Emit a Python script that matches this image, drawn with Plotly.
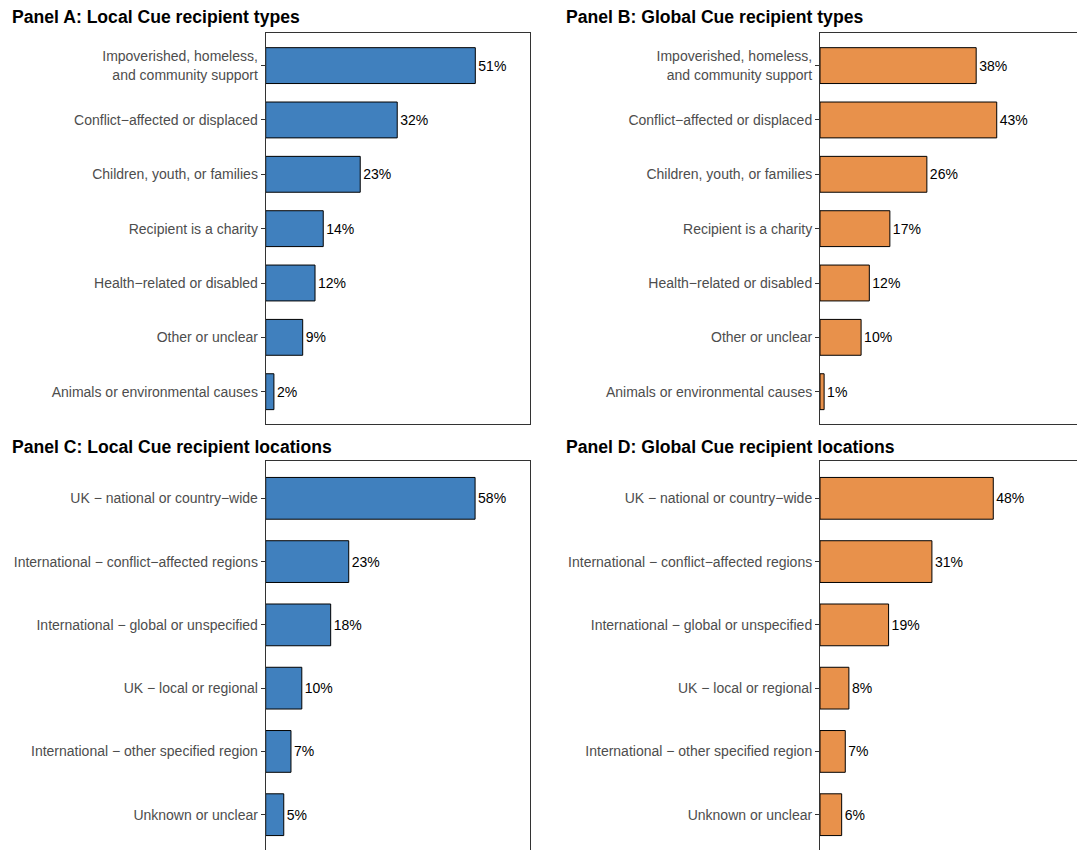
import plotly.graph_objects as go

# Recipient types (panels A and B), listed top to bottom
type_labels = [
    "Impoverished, homeless,<br>and community support",
    "Conflict−affected or displaced",
    "Children, youth, or families",
    "Recipient is a charity",
    "Health−related or disabled",
    "Other or unclear",
    "Animals or environmental causes",
]
local_types = [51, 32, 23, 14, 12, 9, 2]
global_types = [38, 43, 26, 17, 12, 10, 1]

# Recipient locations (panels C and D), listed top to bottom
location_labels = [
    "UK − national or country−wide",
    "International − conflict−affected regions",
    "International − global or unspecified",
    "UK − local or regional",
    "International − other specified region",
    "Unknown or unclear",
]
local_locations = [58, 23, 18, 10, 7, 5]
global_locations = [48, 31, 19, 8, 7, 6]

titles = [
    "Panel A: Local Cue recipient types",
    "Panel B: Global Cue recipient types",
    "Panel C: Local Cue recipient locations",
    "Panel D: Global Cue recipient locations",
]

BLUE = "#4080BE"
ORANGE = "#E8914B"
FONT = "Liberation Sans, Arial, sans-serif"
W, H = 1077, 850

fig = go.Figure()


def add_panel(idx, labels, values, color):
    n = len(labels)
    pos = list(range(n, 0, -1))  # first category on top
    axis = "" if idx == 1 else str(idx)
    fig.add_trace(go.Bar(
        x=values,
        y=pos,
        orientation="h",
        width=0.66,
        marker=dict(color=color, line=dict(color="black", width=1)),
        text=[f"{v}%" for v in values],
        textposition="outside",
        textfont=dict(family=FONT, size=14, color="black"),
        constraintext="none",
        cliponaxis=False,
        hoverinfo="skip",
        xaxis="x" + axis,
        yaxis="y" + axis,
    ))
    return pos


pos_a = add_panel(1, type_labels, local_types, BLUE)
pos_b = add_panel(2, type_labels, global_types, ORANGE)
pos_c = add_panel(3, location_labels, local_locations, BLUE)
pos_d = add_panel(4, location_labels, global_locations, ORANGE)

# panel geometry in pixels
left_x = (265.7, 530.0)
right_x = (820.0, 1077.0)
row1_y = (33.0, 424.3)
row2_y = (461.0, 850.0)


def xdom(px):
    return [px[0] / W, px[1] / W]


def ydom(px):
    return [1 - px[1] / H, 1 - px[0] / H]


row1_scale = 4.11  # px per percentage point
row2_scale = 3.61

axis_line = dict(showline=True, linecolor="#333333", linewidth=1)


def xaxis_cfg(dom, scale, anchor, mirror, side="bottom"):
    return dict(
        domain=xdom(dom), anchor=anchor,
        range=[0, (dom[1] - dom[0]) / scale],
        showgrid=False, zeroline=False, showticklabels=False, ticks="",
        mirror=mirror, side=side, fixedrange=True, **axis_line,
    )


def yaxis_cfg(dom, pos, labels, rng, anchor, mirror):
    return dict(
        domain=ydom(dom), anchor=anchor,
        range=rng,
        tickmode="array", tickvals=pos, ticktext=labels,
        ticks="outside", ticklen=4, tickcolor="#333333", tickwidth=1,
        tickfont=dict(family=FONT, size=14, color="#4D4D4D"),
        showgrid=False, zeroline=False, mirror=mirror, fixedrange=True,
        **axis_line,
    )


r1 = [0.4, 7.6]
r2 = [0.442, 6.59]

fig.update_layout(
    width=W, height=H,
    margin=dict(l=0, r=0, t=0, b=0),
    paper_bgcolor="white", plot_bgcolor="white",
    showlegend=False,
    font=dict(family=FONT),
    xaxis=xaxis_cfg(left_x, row1_scale, "y", True),
    yaxis=yaxis_cfg(row1_y, pos_a, type_labels, r1, "x", True),
    xaxis2=xaxis_cfg(right_x, row1_scale, "y2", True),
    yaxis2=yaxis_cfg(row1_y, pos_b, type_labels, r1, "x2", False),
    xaxis3=xaxis_cfg(left_x, row2_scale, "y3", False, side="top"),
    yaxis3=yaxis_cfg(row2_y, pos_c, location_labels, r2, "x3", True),
    xaxis4=xaxis_cfg(right_x, row2_scale, "y4", False, side="top"),
    yaxis4=yaxis_cfg(row2_y, pos_d, location_labels, r2, "x4", False),
)

title_pos = [(9.5, 16.8), (563.5, 16.8), (9.5, 447.4), (563.5, 447.4)]
for text, (tx, ty) in zip(titles, title_pos):
    fig.add_annotation(
        text=f"<b>{text}</b>", xref="paper", yref="paper",
        x=tx / W, y=1 - ty / H, xanchor="left", yanchor="middle",
        showarrow=False, font=dict(family=FONT, size=17.6, color="black"),
    )

fig.write_html("out.html", config={"displayModeBar": False})
